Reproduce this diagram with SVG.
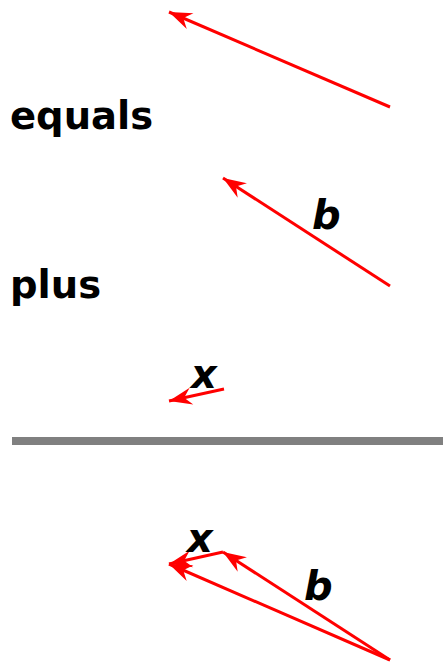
<svg xmlns="http://www.w3.org/2000/svg" width="443" height="663" viewBox="0 0 443 663">
<defs>
<style>
.vec{stroke:#ff0000;stroke-width:3;fill:none;marker-end:url(#ah)}
.lbl{font-family:"DejaVu Sans",sans-serif;font-weight:bold;font-size:38.5px;fill:#000}
.var{font-family:"DejaVu Sans",sans-serif;font-weight:bold;font-style:italic;font-size:40px;fill:#000}
</style>
<marker id="ah" markerUnits="userSpaceOnUse" viewBox="-24 -10 26 20" refX="0" refY="0" markerWidth="26" markerHeight="20" orient="auto" overflow="visible">
<path d="M0,0 L-23,-8.5 L-15.5,0 L-23,8.5 Z" fill="#ff0000"/>
</marker>
</defs>
<rect width="443" height="663" fill="#ffffff"/>
<g id="connectors">
<line class="vec" x1="390" y1="107" x2="169" y2="12"/>
<line class="vec" x1="390" y1="286" x2="223" y2="178"/>
<line class="vec" x1="224" y1="389" x2="169" y2="401"/>
<line class="vec" x1="390" y1="660" x2="223" y2="552"/>
<line class="vec" x1="223" y1="552" x2="169" y2="564"/>
<line class="vec" x1="390" y1="660" x2="169" y2="564"/>
</g>
<g id="label-equals"><text class="lbl" x="10" y="129">equals</text></g>
<g id="label-plus"><text class="lbl" x="10" y="298">plus</text></g>
<g id="label-b1"><text class="var" x="312" y="229">b</text></g>
<g id="label-x1"><text class="var" x="191" y="388">x</text></g>
<g id="separator"><rect x="12" y="437" width="431" height="8" fill="#808080"/></g>
<g id="label-x2"><text class="var" x="187" y="552">x</text></g>
<g id="label-b2"><text class="var" x="304" y="600">b</text></g>
</svg>
